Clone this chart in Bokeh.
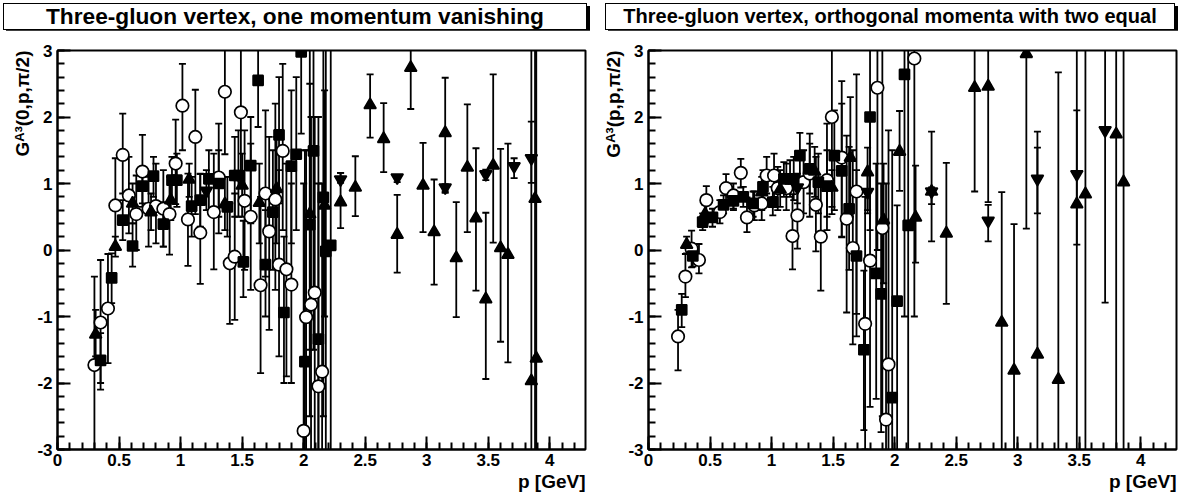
from bokeh.embed import file_html
from bokeh.layouts import column, row
from bokeh.models import ColumnDataSource, Div, Range1d, SingleIntervalTicker, Title
from bokeh.plotting import figure
from bokeh.resources import INLINE

FONT = "Liberation Sans"

x_tick_values = [0, 0.5, 1, 1.5, 2, 2.5, 3, 3.5, 4]
x_tick_labels = ["0", "0.5", "1", "1.5", "2", "2.5", "3", "3.5", "4"]
y_tick_values = [-3, -2, -1, 0, 1, 2, 3]
y_tick_labels = ["-3", "-2", "-1", "0", "1", "2", "3"]

# ---- left panel: one momentum vanishing ----
L_circ_p = [0.30, 0.35, 0.41, 0.47, 0.53, 0.58, 0.64, 0.69, 0.74, 0.80, 0.86, 0.91, 0.96,
            1.015, 1.06, 1.12, 1.16, 1.27, 1.31, 1.36, 1.40, 1.44, 1.49, 1.52, 1.57, 1.65,
            1.69, 1.72, 1.77, 1.80, 1.83, 1.86, 1.90, 2.00, 2.02, 2.06, 2.09, 2.12, 2.15]
L_circ_v = [-1.73, -1.09, -0.88, 0.67, 1.43, 0.82, 0.54, 1.18, 0.62, 0.66, 0.62, 0.54, 1.30,
            2.17, 0.46, 1.70, 0.26, 0.57, 1.09, 2.38, -0.20, -0.10, 2.07, 0.74, 0.50, -0.53,
            0.85, 0.28, 0.76, -0.22, 1.49, -0.29, -0.52, -2.72, -1.01, -0.82, -0.64, -2.05, -1.83]
L_circ_lo = [-3.5, -2.0, -1.70, 0.0, 0.85, 0.25, 0.0, 0.65, 0.05, 0.10, 0.05, -0.07, 0.69,
             1.50, -0.24, 0.54, -0.51, -0.29, 0.25, 1.44, -1.11, -1.05, 1.04, -0.3, -0.6, -1.85,
             -0.4, -1.2, -0.6, -1.6, 0.3, -1.9, -2.0, -5.0, -3.5, -3.5, -3.2, -5.0, -4.5]
L_circ_hi = [-0.40, -0.15, -0.06, 1.38, 2.05, 1.40, 1.12, 1.73, 1.10, 1.30, 1.20, 1.10, 1.96,
             2.80, 1.15, 2.41, 1.14, 1.45, 1.90, 3.5, 0.70, 0.85, 3.3, 1.8, 1.6, 0.8,
             2.1, 1.7, 2.2, 1.2, 2.8, 1.3, 1.0, 1.0, 1.5, 2.0, 2.0, 1.0, 1.0]

L_sq_p = [0.35, 0.44, 0.53, 0.61, 0.69, 0.78, 0.86, 0.93, 0.97, 1.09, 1.16, 1.23, 1.31,
          1.38, 1.44, 1.47, 1.51, 1.57, 1.63, 1.69, 1.75, 1.80, 1.84, 1.90, 1.94, 1.98,
          2.01, 2.05, 2.08, 2.12, 2.16, 2.18, 2.22]
L_sq_v = [-1.66, -0.42, 0.45, 0.06, 0.96, 1.11, 0.39, 1.05, 1.05, 0.66, 0.75, 1.07, 1.00,
          0.65, 1.12, 1.12, -0.18, 1.27, 2.55, -0.22, 0.57, 1.73, -0.94, 1.26, 1.44, 2.98,
          -1.68, 0.38, 1.49, -1.34, 0.79, -0.02, 0.07]
L_sq_lo = [-2.10, -0.80, 0.15, -0.25, 0.70, 0.80, 0.05, 0.70, 0.65, 0.2, 0.35, 0.6, 0.5,
           0.2, 0.5, 0.5, -0.71, 0.4, 1.85, -1.0, -0.3, 0.7, -2.0, 0.1, 0.3, 1.75,
           -5.0, -2.5, -1.5, -4.5, -2.5, -3.5, -4.0]
L_sq_hi = [-1.25, -0.05, 0.75, 0.40, 1.22, 1.40, 0.72, 1.40, 1.45, 1.1, 1.15, 1.5, 1.5,
           1.1, 1.7, 1.8, 0.44, 2.0, 3.3, 0.6, 1.5, 2.6, 0.2, 2.4, 2.6, 4.2,
           1.5, 3.5, 4.5, 2.0, 4.0, 3.5, 4.0]

L_tri_p = [0.31, 0.47, 0.61, 0.76, 0.92, 1.07, 1.36, 1.50, 1.64, 1.78, 2.05, 2.17, 2.30,
           2.42, 2.54, 2.65, 2.76, 2.87, 2.97, 3.06, 3.15, 3.24, 3.33, 3.40, 3.48, 3.54,
           3.60, 3.66, 3.85, 3.88, 3.89]
L_tri_v = [-1.27, 0.05, 0.70, 0.57, 0.75, 1.06, 0.69, 0.97, 0.71, 0.92, 0.54, 0.67, 0.72,
           0.94, 2.18, 1.67, 0.23, 2.74, 0.97, 0.27, 1.76, -0.12, 1.24, 0.48, -0.74, 1.27,
           0.03, -0.07, -1.97, 0.77, -1.63]
L_tri_lo = [-1.6, -0.1, 0.4, 0.3, 0.45, 0.8, 0.3, 0.5, 0.1, 0.1, -1.5, -1.0, 0.33,
            0.51, 1.69, 1.17, -0.34, 2.12, 0.27, -0.52, 0.86, -1.01, 0.27, -0.61, -1.94, 0.11,
            -1.38, -1.69, -9.0, -8.0, -9.0]
L_tri_hi = [-0.9, 0.2, 1.0, 0.85, 1.05, 1.3, 1.1, 1.45, 1.3, 1.7, 2.5, 2.4, 1.16,
            1.41, 2.64, 2.21, 0.83, 3.4, 1.61, 1.06, 2.59, 0.72, 2.19, 1.53, 0.56, 2.64,
            1.52, 1.60, 5.0, 9.0, 6.0]

L_dn_p = [1.21, 2.30, 2.76, 3.15, 3.48, 3.71, 3.85]
L_dn_v = [0.89, 1.06, 1.09, 0.94, 1.14, 1.26, 1.38]
L_dn_lo = [0.6, 1.01, 1.02, 0.88, 1.05, 1.08, 1.01]
L_dn_hi = [1.2, 1.16, 1.13, 0.99, 1.21, 1.38, 1.93]

# ---- right panel: orthogonal momenta with two equal ----
R_circ_p = [0.24, 0.30, 0.35, 0.41, 0.47, 0.58, 0.63, 0.69, 0.75, 0.80, 0.86, 0.92, 0.96,
            1.02, 1.05, 1.12, 1.17, 1.21, 1.26, 1.31, 1.36, 1.40, 1.45, 1.49, 1.57, 1.61,
            1.66, 1.69, 1.76, 1.80, 1.86, 1.90, 1.93, 1.95, 2.16]
R_circ_v = [-1.30, -0.40, 0.02, -0.15, 0.75, 0.57, 0.93, 0.82, 1.16, 0.49, 0.67, 0.70, 1.12,
            1.12, 0.93, 0.93, 0.21, 0.52, 1.02, 1.15, 0.68, 0.20, 1.05, 2.00, 1.39, 0.47,
            0.03, 0.88, -1.11, -0.16, 2.44, 0.33, -2.55, -1.72, 2.88]
R_circ_lo = [-1.81, -0.71, -0.26, -0.35, 0.50, 0.40, 0.69, 0.62, 0.94, 0.27, 0.45, 0.45, 0.85,
             0.80, 0.60, 0.60, -0.29, 0.02, 0.55, 0.50, -0.02, -0.61, 0.30, 0.54, 0.19, -0.94,
             -1.42, -0.96, -3.0, -2.36, 0.0, -2.5, -6.0, -5.0, -1.0]
R_circ_hi = [-0.90, -0.06, 0.29, 0.09, 0.96, 0.75, 1.14, 1.00, 1.37, 0.79, 0.88, 0.95, 1.40,
             1.45, 1.25, 1.30, 0.84, 1.00, 1.50, 1.75, 1.40, 1.00, 1.90, 3.5, 2.54, 1.72,
             1.50, 2.64, 0.8, 2.0, 4.5, 3.5, 1.0, 1.8, 6.0]

R_sq_p = [0.27, 0.36, 0.44, 0.52, 0.61, 0.69, 0.77, 0.85, 0.93, 1.01, 1.10, 1.15, 1.18,
          1.23, 1.31, 1.38, 1.45, 1.51, 1.57, 1.63, 1.69, 1.75, 1.80, 1.85, 1.89, 1.98,
          2.02, 2.08, 2.11]
R_sq_v = [-0.90, -0.09, 0.42, 0.49, 0.68, 0.74, 0.80, 0.70, 0.95, 0.72, 1.07, 1.07, 1.07,
          1.42, 1.22, 1.02, 0.96, 1.42, 1.19, 0.62, -0.09, -1.50, 2.00, -0.35, -0.66, -2.22,
          -0.77, 2.64, 0.37]
R_sq_lo = [-1.16, -0.25, 0.30, 0.35, 0.55, 0.60, 0.65, 0.50, 0.70, 0.52, 0.80, 0.80, 0.75,
           1.05, 0.85, 0.55, 0.50, 0.60, 0.20, -0.30, -1.30, -2.71, 0.30, -2.24, -2.74, -6.0,
           -4.0, -1.0, -4.0]
R_sq_hi = [-0.66, 0.08, 0.55, 0.62, 0.82, 0.90, 0.95, 0.88, 1.20, 0.95, 1.32, 1.35, 1.40,
           1.76, 1.60, 1.45, 1.50, 2.10, 2.20, 1.55, 1.20, -0.31, 3.8, 1.30, 1.00, 1.5,
           0.67, 6.0, 5.0]

R_tri_p = [0.31, 0.46, 0.92, 1.07, 1.35, 1.49, 1.64, 1.78, 1.91, 2.04, 2.17, 2.30, 2.42,
           2.65, 2.76, 2.87, 2.97, 3.07, 3.16, 3.33, 3.48, 3.55, 3.80, 3.86]
R_tri_v = [0.08, 0.54, 0.87, 0.91, 1.18, 0.94, 1.39, 1.17, 0.45, 1.48, 0.49, 0.88, 0.25,
           2.44, 2.46, -1.09, -1.81, 2.95, -1.57, -1.95, 0.69, 0.84, 1.74, 1.02]
R_tri_lo = [-0.05, 0.40, 0.60, 0.65, 0.80, 0.65, 0.50, 0.60, -0.50, 0.89, -0.19, 0.13, -0.81,
            0.88, 0.72, -4.0, -4.0, 0.32, -4.5, -5.0, -5.0, -5.0, -6.0, -6.0]
R_tri_hi = [0.20, 0.68, 1.10, 1.20, 1.55, 1.20, 2.30, 1.54, 1.30, 2.09, 1.27, 1.78, 1.31,
            4.5, 4.5, 0.87, 0.39, 5.5, 1.78, 2.67, 6.0, 6.0, 8.0, 8.0]

R_dn_p = [1.21, 1.78, 2.30, 2.76, 3.16, 3.48, 3.71]
R_dn_v = [0.94, 0.87, 0.88, 0.44, 1.07, 1.14, 1.80]
R_dn_lo = [0.70, 0.55, 0.69, 0.13, 0.55, 0.08, -0.79]
R_dn_hi = [1.15, 1.20, 0.94, 0.68, 1.54, 2.10, 5.0]

left_series = [
    (L_circ_p, L_circ_v, L_circ_lo, L_circ_hi, "circle"),
    (L_sq_p, L_sq_v, L_sq_lo, L_sq_hi, "square"),
    (L_tri_p, L_tri_v, L_tri_lo, L_tri_hi, "triangle"),
    (L_dn_p, L_dn_v, L_dn_lo, L_dn_hi, "inverted_triangle"),
]
right_series = [
    (R_circ_p, R_circ_v, R_circ_lo, R_circ_hi, "circle"),
    (R_sq_p, R_sq_v, R_sq_lo, R_sq_hi, "square"),
    (R_tri_p, R_tri_v, R_tri_lo, R_tri_hi, "triangle"),
    (R_dn_p, R_dn_v, R_dn_lo, R_dn_hi, "inverted_triangle"),
]

marker_size = {"circle": 12.5, "square": 10, "triangle": 12, "inverted_triangle": 12}


def make_panel(series, ylabel, width, border_left, border_right):
    p = figure(width=width, height=468, x_range=Range1d(0, 4.29), y_range=Range1d(-3, 3),
               output_backend="svg", toolbar_location=None, title=None,
               min_border_left=border_left, min_border_right=border_right,
               min_border_top=20, min_border_bottom=49)
    p.grid.visible = False
    p.outline_line_color = "black"
    p.outline_line_width = 2
    p.background_fill_color = "white"

    p.xaxis.ticker = SingleIntervalTicker(interval=0.5, num_minor_ticks=5)
    p.yaxis.ticker = SingleIntervalTicker(interval=1, num_minor_ticks=5)
    p.xaxis.major_label_overrides = dict(zip(x_tick_values, x_tick_labels))
    p.yaxis.major_label_overrides = dict(zip(y_tick_values, y_tick_labels))
    for ax in (p.xaxis, p.yaxis):
        ax.axis_line_width = 2
        ax.axis_line_color = "black"
        ax.major_tick_in = 13
        ax.major_tick_out = 0
        ax.minor_tick_in = 7
        ax.minor_tick_out = 0
        ax.major_tick_line_width = 2
        ax.minor_tick_line_width = 2
        ax.major_label_text_font = FONT
        ax.major_label_text_font_style = "bold"
        ax.major_label_text_font_size = "17px"
        ax.major_label_text_color = "black"
    p.xaxis.major_label_standoff = 4
    p.yaxis.major_label_standoff = 5

    # error bars first, then the caps, then markers on top
    for xs, ys, lo, hi, marker in series:
        src = ColumnDataSource(dict(x=xs, y=ys, lo=lo, hi=hi))
        p.segment(x0="x", y0="lo", x1="x", y1="hi", source=src, line_color="black", line_width=1.8)
        p.scatter(x="x", y="lo", source=src, marker="dash", size=7, line_color="black", line_width=1.8)
        p.scatter(x="x", y="hi", source=src, marker="dash", size=7, line_color="black", line_width=1.8)
    for xs, ys, lo, hi, marker in series:
        fill = "white" if marker == "circle" else "black"
        p.scatter(xs, ys, marker=marker, size=marker_size[marker], fill_color=fill,
                  line_color="black", line_width=1.7)

    p.add_layout(Title(text=ylabel, align="right", standoff=3, text_font=FONT,
                       text_font_style="bold", text_font_size="19px", text_color="black"), "left")
    p.add_layout(Title(text="p [GeV]", align="right", standoff=0, text_font=FONT,
                       text_font_style="bold", text_font_size="19px", text_color="black"), "below")
    return p


def title_box(text, width, size, margin):
    return Div(text=text, width=width, height=27, margin=margin,
               styles={"font-family": FONT, "font-weight": "bold", "font-size": size,
                       "text-align": "center", "line-height": "25px", "color": "black",
                       "border": "1px solid black", "box-shadow": "3px 3px 0 0 black",
                       "box-sizing": "border-box", "background": "white"})


p1 = make_panel(left_series, "G\u1d2c\u00b3(0,p,\u03c0/2)", 598, 57, 13)
p2 = make_panel(right_series, "G\u1d2c\u00b3(p,p,\u03c0/2)", 581, 50, 3)

t1 = title_box("Three-gluon vertex, one momentum vanishing", 584, "22.7px", (3, 0, 0, 3))
t2 = title_box("Three-gluon vertex, orthogonal momenta with two equal", 570, "20px", (3, 0, 0, 18))

layout = column(row(t1, t2), row(p1, p2))

open("out.html", "w").write(file_html(layout, INLINE))
